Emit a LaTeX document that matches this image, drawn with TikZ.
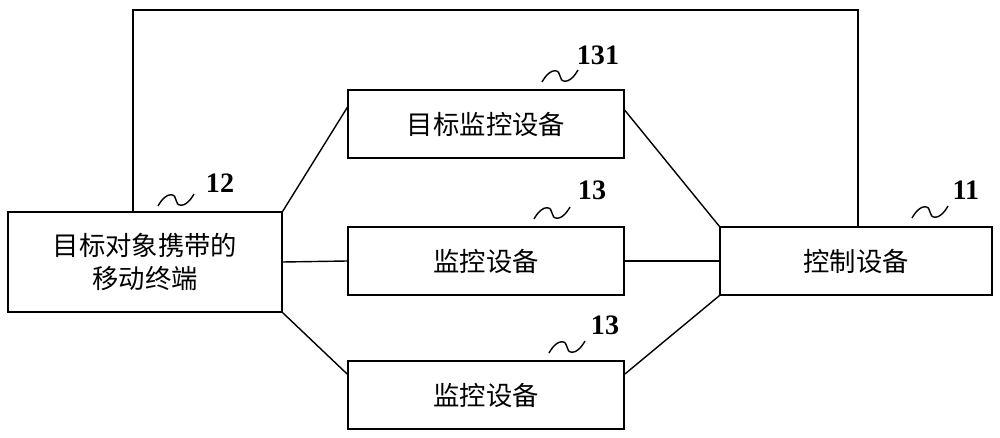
\documentclass[tikz,border=0pt]{standalone}
\usepackage{fontspec}
\setmainfont{Liberation Serif}
\newfontfamily\cjk{Noto Sans CJK SC}
\usetikzlibrary{positioning, calc}
\tikzset{
    devbox/.style={rectangle, draw=black, thick, fill=white, minimum width=5.52cm,
                   minimum height=1.36cm, align=center, font=\cjk\fontsize{15}{19}\selectfont},
    link/.style={thick, black},
    numlabel/.style={font=\bfseries\fontsize{16}{18}\selectfont},
    squiggle/.style={thick, black},
}
\begin{document}
\begin{tikzpicture}[x=0.02cm, y=-0.02cm]
            \useasboundingbox (0,0) rectangle (1000,438);
            \node[devbox, minimum width=5.48cm, minimum height=2cm] (mob) at (145,262) {目标对象携带的\\移动终端};
            \node[devbox] (tgt) at (486,124) {目标监控设备};
            \node[devbox] (mon1) at (486,261) {监控设备};
            \node[devbox] (mon2) at (486,395) {监控设备};
            \node[devbox, minimum width=5.44cm] (ctl) at (856,261) {控制设备};
            
            % connectors
            \draw[link] (mob.north east) -- ($(tgt.north west)!0.26!(tgt.south west)$);
            \draw[link] (mob.east) -- (mon1.west);
            \draw[link] (mob.south east) -- ($(mon2.north west)!0.2!(mon2.south west)$);
            \draw[link] ($(tgt.north east)!0.3!(tgt.south east)$) -- (ctl.north west);
            \draw[link] (mon1.east) -- (ctl.west);
            \draw[link] ($(mon2.north east)!0.2!(mon2.south east)$) -- (ctl.south west);
            \coordinate (topl) at (133,10);
            \coordinate (topr) at (858,10);
            \draw[link] (mob.north -| topl) -- (topl) -- (topr) -- (ctl.north -| topr);
            
            % reference numbers
            \foreach \nm/\tx/\lx/\ly/\sx/\sy in {n12/12/220/183/176/200, n131/131/598/55/560/76,
                n13a/13/592/190/552/213, n13b/13/605/325/567/347, n11/11/966/190/930/212} {
                \node[numlabel] (\nm) at (\lx,\ly) {\tx};
                \draw[squiggle] (\sx-18,\sy+6) .. controls (\sx-9,\sy-10) and (\sx,\sy-6) .. (\sx,\sy)
                    .. controls (\sx,\sy+6) and (\sx+9,\sy+10) .. (\sx+18,\sy-6);
            }
        \end{tikzpicture}
\end{document}
